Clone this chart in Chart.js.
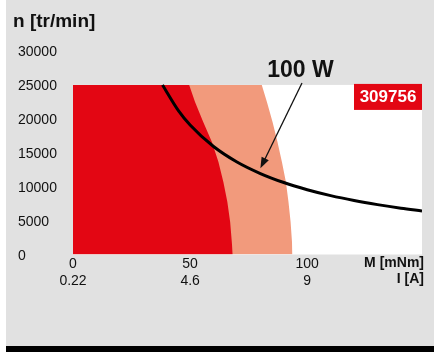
<!DOCTYPE html>
<html>
<head>
<meta charset="utf-8">
<script src="https://cdn.jsdelivr.net/npm/chart.js@4.4.1/dist/chart.umd.min.js"></script>
<style>
  html, body { margin: 0; padding: 0; background: #fff; }
  #panel { position: absolute; left: 6px; top: 0; width: 428px; height: 346px; background: #e1e1e1; }
  #foot { position: absolute; left: 6px; top: 346px; width: 428px; height: 6px; background: #000; }
  #wrap { position: absolute; left: 0; top: 0; width: 434px; height: 352px; }
</style>
</head>
<body>
<div id="panel"></div>
<div id="foot"></div>
<div id="wrap"><canvas id="c" width="434" height="352"></canvas></div>
<script>
const FONT = '"Liberation Sans", Arial, Helvetica, sans-serif';
const RED = '#e30613';
const SALMON = '#f29a7c';

const speedTicks = [0, 5000, 10000, 15000, 20000, 25000, 30000];
const torqueTicks = [0, 50, 100];
const currentTicks = ['0.22', '4.6', '9'];

// continuous operation range
const contTorque = [0, 49.6, 52.1, 55.6, 59.3, 62.1, 64.2, 65.9, 67.1, 67.8, 68.2];
const contSpeed = [25000, 25000, 22490, 19540, 16590, 13640, 10690, 7740, 4790, 1840, 0];
// short-term operation range
const shortTorque = [0, 80.6, 82.8, 85.2, 87.3, 89.2, 90.9, 92.0, 92.9, 93.5, 93.7];
const shortSpeed = [25000, 25000, 22490, 19540, 16590, 13640, 10690, 7740, 4790, 1840, 0];
// 100 W output curve
const powerTorque = [38.2, 45, 50, 60, 70, 80, 90, 100, 110, 120, 130, 140, 149];
const powerSpeed = [25000, 21220, 19100, 15920, 13640, 11940, 10610, 9550, 8680, 7960, 7350, 6820, 6410];
const powerLabel = '100 W';
const powerArrowTip = { x: 80, y: 12700 };
const motorRef = '309756';

const pts = (xs, ys) => xs.map((x, i) => ({ x, y: ys[i] }));

// white plot field, up to the top speed limit only
const plotField = {
  id: 'plotField',
  beforeDatasetsDraw(chart) {
    const { ctx, chartArea, scales: { x, y } } = chart;
    const top = y.getPixelForValue(25000);
    const bottom = y.getPixelForValue(0);
    ctx.save();
    ctx.fillStyle = '#fff';
    ctx.fillRect(x.getPixelForValue(0), top, chartArea.right - x.getPixelForValue(0), bottom - top);
    ctx.restore();
  },
};

const overlay = {
  id: 'overlay',
  afterDatasetsDraw(chart) {
    const { ctx, chartArea, scales: { x, y } } = chart;
    ctx.save();
    ctx.fillStyle = '#111';
    ctx.textBaseline = 'middle';

    ctx.font = `bold 19px ${FONT}`;
    ctx.textAlign = 'left';
    ctx.fillText('n [tr/min]', 13, 22);

    ctx.font = `bold 14px ${FONT}`;
    ctx.textAlign = 'right';
    ctx.fillText('M [mNm]', chartArea.right + 2, 263);
    ctx.fillText('I [A]', chartArea.right + 2, 279);

    // power curve label with arrow
    ctx.font = `bold 23px ${FONT}`;
    ctx.textAlign = 'center';
    ctx.fillText(powerLabel, 300.5, 71);
    const sx = 302, sy = 83;
    const tx = x.getPixelForValue(powerArrowTip.x), ty = y.getPixelForValue(powerArrowTip.y);
    const ang = Math.atan2(ty - sy, tx - sx);
    ctx.strokeStyle = '#111';
    ctx.lineWidth = 1.3;
    ctx.beginPath();
    ctx.moveTo(sx, sy);
    ctx.lineTo(tx - 8 * Math.cos(ang), ty - 8 * Math.sin(ang));
    ctx.stroke();
    ctx.beginPath();
    ctx.moveTo(tx, ty);
    ctx.lineTo(tx - 11 * Math.cos(ang) + 4 * Math.sin(ang), ty - 11 * Math.sin(ang) - 4 * Math.cos(ang));
    ctx.lineTo(tx - 11 * Math.cos(ang) - 4 * Math.sin(ang), ty - 11 * Math.sin(ang) + 4 * Math.cos(ang));
    ctx.closePath();
    ctx.fill();

    // motor reference badge
    const bTop = y.getPixelForValue(25000) - 1;
    ctx.fillStyle = RED;
    ctx.fillRect(chartArea.right - 68, bTop, 68, 26);
    ctx.fillStyle = '#fff';
    ctx.font = `bold 17px ${FONT}`;
    ctx.fillText(motorRef, chartArea.right - 34, bTop + 13.5);
    ctx.restore();
  },
};

new Chart(document.getElementById('c'), {
  type: 'scatter',
  data: {
    datasets: [
      {
        label: powerLabel,
        data: pts(powerTorque, powerSpeed),
        showLine: true, borderColor: '#000', borderWidth: 3,
        pointRadius: 0, cubicInterpolationMode: 'monotone', fill: false, order: 0,
      },
      {
        label: 'continuous',
        data: pts(contTorque, contSpeed),
        showLine: true, borderWidth: 0, borderColor: RED, backgroundColor: RED,
        pointRadius: 0, tension: 0, fill: 'origin', order: 1,
      },
      {
        label: 'short-term',
        data: pts(shortTorque, shortSpeed),
        showLine: true, borderWidth: 0, borderColor: SALMON, backgroundColor: SALMON,
        pointRadius: 0, tension: 0, fill: 'origin', order: 2,
      },
    ],
  },
  options: {
    responsive: false,
    animation: false,
    devicePixelRatio: 1,
    layout: { padding: { left: 18, right: 12, top: 51, bottom: 57.5 } },
    plugins: { legend: { display: false }, tooltip: { enabled: false } },
    scales: {
      x: {
        type: 'linear', min: 0, max: 149,
        border: { display: false },
        grid: { display: false, drawTicks: false },
        afterFit: s => { s.height = 40; },
        afterBuildTicks: s => { s.ticks = torqueTicks.map(v => ({ value: v })); },
        ticks: {
          padding: 1, color: '#111', font: { family: FONT, size: 14 },
          maxRotation: 0,
          callback: (v, i) => [String(torqueTicks[i]), currentTicks[i]],
        },
      },
      y: {
        type: 'linear', min: 0, max: 30000,
        border: { display: false },
        grid: { display: false, drawTicks: false },
        afterFit: s => { s.width = 55; },
        afterBuildTicks: s => { s.ticks = speedTicks.map(v => ({ value: v })); },
        ticks: {
          crossAlign: 'far', labelOffset: 1.5, color: '#111', font: { family: FONT, size: 14 },
          callback: v => String(v),
        },
      },
    },
  },
  plugins: [plotField, overlay],
});
</script>
</body>
</html>
